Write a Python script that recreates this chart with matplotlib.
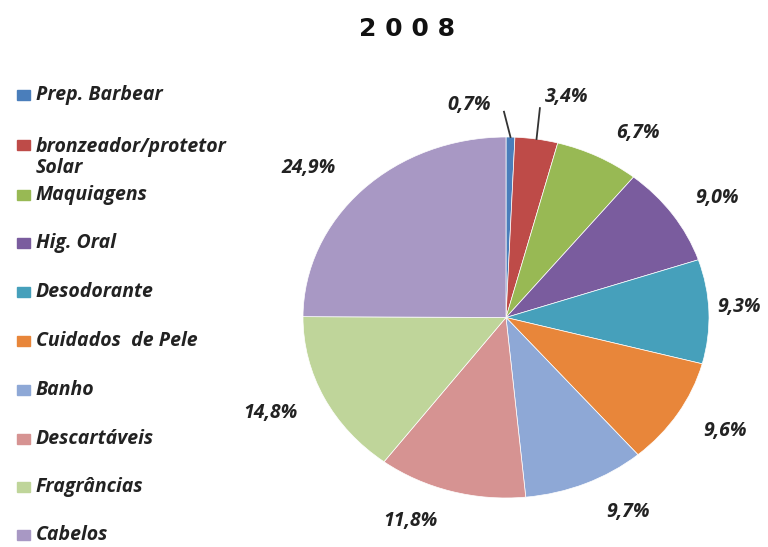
import numpy as np
import matplotlib
matplotlib.use("Agg")
import matplotlib.pyplot as plt
from matplotlib.patches import Rectangle

plt.rcParams['font.family'] = ['Open Sans', 'DejaVu Sans']

# dados 2008
categorias = ['Prep. Barbear', 'bronzeador/protetor\nSolar', 'Maquiagens', 'Hig. Oral',
              'Desodorante', 'Cuidados  de Pele', 'Banho', 'Descartáveis',
              'Fragrâncias', 'Cabelos']
valores = [0.7, 3.4, 6.7, 9.0, 9.3, 9.6, 9.7, 11.8, 14.8, 24.9]
rotulos = ['0,7%', '3,4%', '6,7%', '9,0%', '9,3%', '9,6%', '9,7%', '11,8%', '14,8%', '24,9%']
cores = ['#4A7EBB', '#BE4B48', '#98B954', '#7A5C9E', '#46A0BB',
         '#E8863A', '#8EA8D6', '#D69392', '#BFD59A', '#A898C4']

# posicao dos rotulos (coord. do eixo) e da legenda (pixels a partir do topo)
pos_rotulos = [(-0.18, 1.18), (0.30, 1.22), (0.65, 1.02), (1.04, 0.66), (1.15, 0.06),
               (1.08, -0.63), (0.60, -1.08), (-0.47, -1.13), (-1.16, -0.53), (-0.97, 0.83)]
inicio_linha = {0: (-0.01, 1.14), 1: (0.167, 1.16)}
leg_y = [95, 145, 195, 243, 292, 341, 390, 439, 487, 535]

W, H = 768, 547
fig = plt.figure(figsize=(W / 100, H / 100), dpi=100)
ax = fig.add_axes([303 / W, 49 / H, 406 / W, 361 / H])

wedges, _ = ax.pie(valores, colors=cores, startangle=90, counterclock=False,
                   wedgeprops=dict(edgecolor='white', linewidth=0.5))
ax.set_aspect('auto')
ax.set_xlim(-1, 1)
ax.set_ylim(-1, 1)
ax.axis('off')

fonte = dict(fontsize=14, fontweight='bold', fontstyle='italic', color='#222222')
for i, (w, txt) in enumerate(zip(wedges, rotulos)):
    x, y = pos_rotulos[i]
    ax.text(x, y, txt, ha='center', va='center', clip_on=False, **fonte)
    # linhas de chamada para as fatias pequenas
    if i in inicio_linha:
        ang = np.deg2rad((w.theta1 + w.theta2) / 2)
        x0, y0 = inicio_linha[i]
        ax.plot([x0, np.cos(ang)], [y0, np.sin(ang)], color='#333333', lw=1.3, clip_on=False)

fig.text(407 / W, 1 - 29 / H, '2 0 0 8', ha='center', va='center',
         fontsize=18, fontweight='bold', color='#111111', family='DejaVu Sans')

# legenda
for cat, cor, yy in zip(categorias, cores, leg_y):
    fig.patches.append(Rectangle((17 / W, 1 - (yy + 5) / H), 13 / W, 10 / H,
                                 color=cor, transform=fig.transFigure))
    yc = yy + 12.5 if '\n' in cat else yy
    fig.text(36 / W, 1 - yc / H, cat, ha='left', va='center', linespacing=1.07, **fonte)

fig.savefig('out.png', dpi=100)
